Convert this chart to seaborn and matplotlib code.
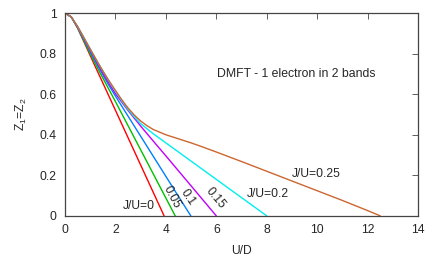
import pandas as pd
import numpy as np
import seaborn as sns
import matplotlib
matplotlib.use("Agg")
import matplotlib.pyplot as plt

# quasiparticle weight Z vs U/D for several J/U
u_j000 = [0, 0.25, 0.5, 0.75, 1.0, 1.25, 1.5, 2.0, 2.5, 3.0, 3.5, 3.93]
z_j000 = [1, 0.981, 0.926, 0.859, 0.791, 0.723, 0.656, 0.521, 0.386, 0.251, 0.116, 0]

u_j005 = [0, 0.25, 0.5, 0.75, 1.0, 1.25, 1.5, 2.0, 2.5, 3.0, 3.5, 4.0, 4.37]
z_j005 = [1, 0.981, 0.928, 0.864, 0.80, 0.739, 0.68, 0.564, 0.445, 0.326, 0.207, 0.088, 0]

u_j010 = [0, 0.25, 0.5, 0.75, 1.0, 1.25, 1.5, 1.75, 2.0, 2.5, 3.0, 3.5, 4.0, 4.5, 4.99]
z_j010 = [1, 0.981, 0.93, 0.87, 0.81, 0.752, 0.695, 0.642, 0.591, 0.492, 0.393, 0.294, 0.195, 0.096, 0]

u_j015 = [0, 0.25, 0.5, 0.75, 1.0, 1.25, 1.5, 1.75, 2.0, 2.5, 3.0, 3.5, 4.0, 4.5, 5.0, 5.5, 6.0]
z_j015 = [1, 0.981, 0.932, 0.875, 0.817, 0.76, 0.705, 0.652, 0.603, 0.52, 0.443, 0.369, 0.296, 0.222, 0.148, 0.074, 0]

u_j020 = [0, 0.25, 0.5, 0.75, 1.0, 1.25, 1.5, 1.75, 2.0, 2.25, 2.5, 2.75, 3.0, 3.5, 4.0,
          4.5, 5.0, 5.5, 6.0, 6.5, 7.0, 7.5, 8.0]
z_j020 = [1, 0.981, 0.934, 0.879, 0.823, 0.768, 0.715, 0.664, 0.615, 0.568, 0.525, 0.488, 0.455,
          0.405, 0.36, 0.315, 0.27, 0.225, 0.18, 0.135, 0.09, 0.045, 0]

u_j025 = [0, 0.25, 0.5, 0.75, 1.0, 1.25, 1.5, 1.75, 2.0, 2.25, 2.5, 2.75, 3.0, 3.25, 3.5, 4.0,
          4.5, 5.0, 5.5, 6.0, 7.0, 8.0, 9.0, 10.0, 11.0, 12.0, 12.5]
z_j025 = [1, 0.981, 0.934, 0.879, 0.823, 0.768, 0.715, 0.665, 0.619, 0.573, 0.532, 0.497, 0.468,
          0.445, 0.426, 0.40, 0.38, 0.36, 0.338, 0.315, 0.268, 0.22, 0.172, 0.124, 0.076, 0.026, 0]

curves = {"0": (u_j000, z_j000), "0.05": (u_j005, z_j005), "0.1": (u_j010, z_j010),
          "0.15": (u_j015, z_j015), "0.2": (u_j020, z_j020), "0.25": (u_j025, z_j025)}
colors = ["#ff0000", "#00c000", "#0080ff", "#c000ff", "#00eeee", "#cc6630"]

frames = []
for j, (u, z) in curves.items():
    frames.append(pd.DataFrame({"U": u, "Z": z, "J": j}))
df = pd.concat(frames, ignore_index=True)

sns.set_theme(style="white")
plt.rcParams['font.family'] = ['Liberation Sans', 'DejaVu Sans']
plt.rcParams['mathtext.fontset'] = 'custom'
plt.rcParams['mathtext.rm'] = 'Liberation Sans'
plt.rcParams['mathtext.it'] = 'Liberation Sans'

fs = 8.7
fig = plt.figure(figsize=(4.36, 2.62), dpi=100)
ax = fig.add_axes([0.149, 0.176, 0.810, 0.774])
sns.lineplot(data=df, x="U", y="Z", hue="J", palette=colors, linewidth=1.0,
             legend=False, ax=ax, sort=False)

ax.set_xlim(0, 14)
ax.set_ylim(0, 1)
ax.set_xticks(range(0, 15, 2))
ax.set_yticks([0, 0.2, 0.4, 0.6, 0.8, 1])
ax.set_yticklabels(["0", "0.2", "0.4", "0.6", "0.8", "1"])
ax.tick_params(direction="in", length=4, width=0.6, color="#444444", labelsize=fs,
               top=True, right=True, pad=6)
for s in ax.spines.values():
    s.set_color("#444444")
    s.set_linewidth(0.9)

ax.set_xlabel("U/D", fontsize=fs, labelpad=6)
ax.set_ylabel("Z$_1$=Z$_2$", fontsize=fs, labelpad=8)

ax.text(6.02, 0.70, "DMFT - 1 electron in 2 bands", fontsize=8.8, va="center", ha="left")
ax.text(2.92, 0.05, "J/U=0", fontsize=fs, ha="center", va="center")
ax.text(4.23, 0.094, "0.05", fontsize=fs, ha="center", va="center", rotation=-62)
ax.text(4.86, 0.091, "0.1", fontsize=fs, ha="center", va="center", rotation=-56)
ax.text(5.95, 0.089, "0.15", fontsize=fs, ha="center", va="center", rotation=-50)
ax.text(8.04, 0.107, "J/U=0.2", fontsize=fs, ha="center", va="center")
ax.text(9.98, 0.207, "J/U=0.25", fontsize=fs, ha="center", va="center")

fig.savefig("out.png", dpi=100)
